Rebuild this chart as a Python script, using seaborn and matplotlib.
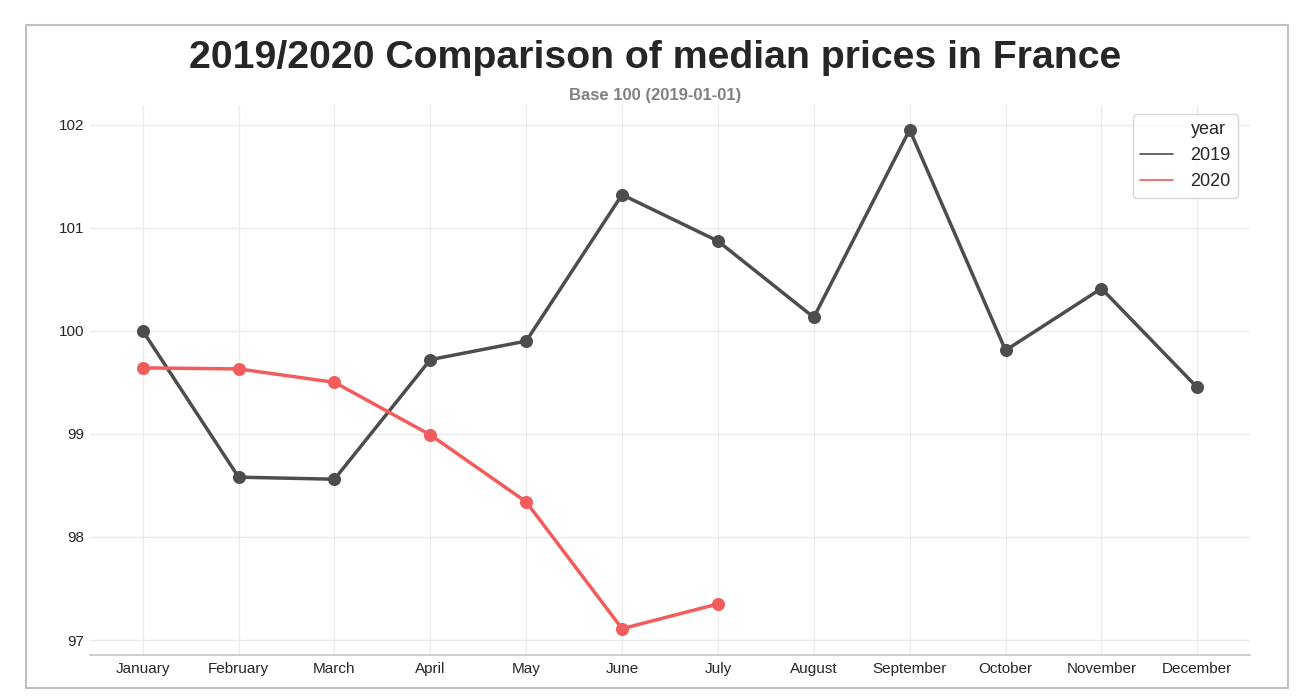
import seaborn as sns
import matplotlib.pyplot as plt
import pandas as pd
from matplotlib.lines import Line2D
from matplotlib.patches import Rectangle

# median price index, base 100 (2019-01-01)
months = ["January", "February", "March", "April", "May", "June",
          "July", "August", "September", "October", "November", "December"]
prices_2019 = [100.0, 98.58, 98.56, 99.72, 99.90, 101.32,
               100.87, 100.13, 101.95, 99.81, 100.41, 99.45]
prices_2020 = [99.64, 99.63, 99.50, 98.99, 98.34, 97.11, 97.35]
years = ["2019", "2020"]
colors = {"2019": "#4d4d4d", "2020": "#f25c5c"}

df = pd.concat([
    pd.DataFrame({"month": months, "price": prices_2019, "year": "2019"}),
    pd.DataFrame({"month": months[:len(prices_2020)], "price": prices_2020, "year": "2020"}),
])

sns.set_theme(style="whitegrid", rc={"grid.color": "#ebebeb", "axes.edgecolor": "#c8c8c8"})
plt.rcParams["font.family"] = ["Liberation Sans", "DejaVu Sans"]

fig = plt.figure(figsize=(13.1, 7), dpi=100)
ax = fig.add_axes([0.0687, 0.0643, 0.8855, 0.7857])

sns.pointplot(data=df, x="month", y="price", hue="year", order=months,
              hue_order=years, palette=colors, markers="o",
              linewidth=2.5, markersize=7.5, ax=ax)

ax.set_xlim(-0.55, 11.55)
ax.set_ylim(96.855, 102.19)
ax.set_yticks([97, 98, 99, 100, 101, 102])
ax.set_xlabel("")
ax.set_ylabel("")
ax.grid(True, axis="both", color="#ebebeb", linewidth=1)
ax.set_axisbelow(True)
ax.tick_params(axis="x", labelsize=11, colors="#262626", pad=-1)
ax.tick_params(axis="y", labelsize=11, colors="#262626", pad=-2)
sns.despine(ax=ax, left=True)

# legend: title as first entry, thin lines only
handles = [Line2D([], [], color="none", label="year")]
handles += [Line2D([], [], color=colors[y], linewidth=1.2, label=y) for y in years]
ax.legend(handles=handles, loc="upper right", fontsize=13, frameon=True,
          bbox_to_anchor=(0.9975, 1.0), handlelength=1.8, borderpad=0.4,
          labelspacing=0.5, handletextpad=1.0, borderaxespad=0.5)

fig.text(0.5, 0.917, "2019/2020 Comparison of median prices in France",
         ha="center", va="center", fontsize=28.3, fontweight="bold", color="#262626")
fig.text(0.5, 0.864, "Base 100 (2019-01-01)", ha="center", va="center",
         fontsize=12, fontweight="bold", color="#808080")

# gray frame around the figure
fig.patches.append(Rectangle((26 / 1310, 12 / 700), 1262 / 1310, 663 / 700,
                             transform=fig.transFigure, fill=False,
                             edgecolor="#c0c0c0", linewidth=1.5))

fig.savefig("out.png", dpi=100)
